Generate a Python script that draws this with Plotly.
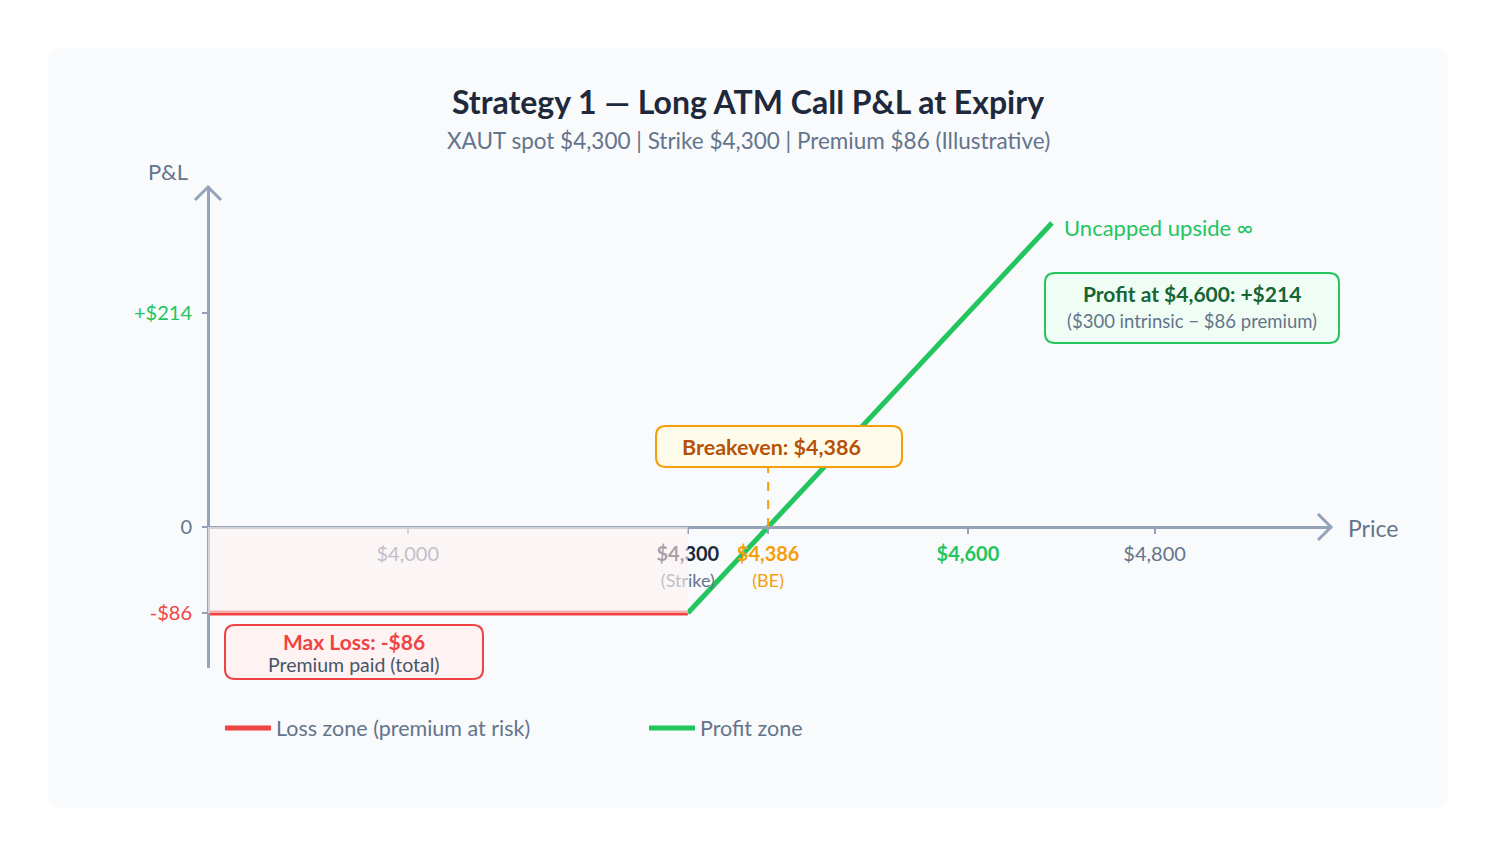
import plotly.graph_objects as go

W, H = 1496, 856
OFF = 8  # page margin around the plot div
FW, FH = W - 2 * OFF, H - 2 * OFF
FONT = "Lato, 'Open Sans', sans-serif"

# data
strike = 4300
premium = 86
breakeven = 4386
price_min = 3786
price_max = 4990
line_end = 4690
loss_prices = [price_min, strike]
loss_pnl = [-premium, -premium]
profit_prices = [strike, line_end]
profit_pnl = [-premium, line_end - strike - premium]

x_tickvals = [4000, 4300, 4386, 4600, 4800]
x_ticktext = [
    "$4,000",
    "<span style='color:#1e293b'><b>$4,300</b></span><br><span style='font-size:18px'>(Strike)</span>",
    "<span style='color:#f59e0b'><b>$4,386</b><br><span style='font-size:18px'>(BE)</span></span>",
    "<span style='color:#22c55e'><b>$4,600</b></span>",
    "$4,800",
]
y_tickvals = [214, 0, -86]
y_ticktext = [
    "<span style='color:#22c55e'>+$214</span>",
    "0",
    "<span style='color:#ef4444'>-$86</span>",
]

AXIS = "#94a3b8"


def px(x):
    return (x - OFF) / FW


def py(y):
    return 1 - (y - OFF) / FH


def rounded_path(w, h, r):
    # rounded rectangle centred on the anchor, pixel units
    x0, x1, y0, y1 = -w / 2, w / 2, -h / 2, h / 2
    return (f"M{x0 + r},{y0} L{x1 - r},{y0} Q{x1},{y0} {x1},{y0 + r} "
            f"L{x1},{y1 - r} Q{x1},{y1} {x1 - r},{y1} L{x0 + r},{y1} "
            f"Q{x0},{y1} {x0},{y1 - r} L{x0},{y0 + r} Q{x0},{y0} {x0 + r},{y0} Z")


def box(cx, cy, w, h, fill, border, r=10, layer="above"):
    return dict(type="path", xref="paper", yref="paper", xsizemode="pixel", ysizemode="pixel",
                xanchor=px(cx), yanchor=py(cy), path=rounded_path(w, h, r),
                fillcolor=fill, line=dict(color=border, width=2), layer=layer)


def chevron(cx, cy, path):
    return dict(type="path", xref="paper", yref="paper", xsizemode="pixel", ysizemode="pixel",
                xanchor=px(cx), yanchor=py(cy), path=path,
                line=dict(color=AXIS, width=3), layer="above")


fig = go.Figure()

fig.add_trace(go.Scatter(x=loss_prices, y=loss_pnl, mode="lines",
                         line=dict(color="#ef4444", width=5),
                         name="Loss zone (premium at risk)", hoverinfo="skip"))
fig.add_trace(go.Scatter(x=profit_prices, y=profit_pnl, mode="lines",
                         line=dict(color="#22c55e", width=5),
                         name="Profit zone", hoverinfo="skip"))

shapes = [
    # card
    box(748, 428, 1400, 760, "#f8fafc", "rgba(0,0,0,0)", r=16, layer="below"),
    # loss zone shading, drawn above so it veils the labels beneath it
    dict(type="rect", xref="x", yref="y", x0=price_min, x1=strike, y0=-premium, y1=0,
         fillcolor="rgba(254,242,242,0.6)", line=dict(width=0), layer="above"),
    # breakeven marker
    dict(type="line", xref="x", yref="y", x0=breakeven, x1=breakeven, y0=0, y1=59,
         line=dict(color="#f59e0b", width=2, dash="dash"), layer="above"),
    # arrow heads
    chevron(1331, 527, "M-13,13 L0,0 L-13,-13"),
    chevron(208, 187, "M-13,-13 L0,0 L13,-13"),
    # call-out boxes
    box(779, 446.5, 246, 41, "#fffbeb", "#f59e0b"),
    box(1192, 308, 294, 70, "#f0fdf4", "#22c55e"),
    box(354, 652, 258, 54, "#fef2f2", "#ef4444"),
]

annotations = [
    dict(text="<b>Strategy 1 — Long ATM Call P&L at Expiry</b>", x=px(748), y=py(101),
         font=dict(size=32, color="#1e293b")),
    dict(text="XAUT spot $4,300 | Strike $4,300 | Premium $86 (Illustrative)", x=px(748), y=py(140),
         font=dict(size=22.5, color="#64748b")),
    dict(text="P&L", x=px(168), y=py(172), font=dict(size=22, color="#64748b")),
    dict(text="Price", x=px(1373), y=py(528), font=dict(size=23, color="#64748b")),
    dict(text="Uncapped upside ∞", xref="x", yref="y", x=profit_prices[-1], y=profit_pnl[-1],
         xanchor="left", yanchor="middle", xshift=10, yshift=-4, font=dict(size=22, color="#22c55e")),
    dict(text="<b>Breakeven: $4,386</b>", x=px(772), y=py(447),
         font=dict(size=21.5, color="#b45309")),
    dict(text="<b>Profit at $4,600: +$214</b>", x=px(1192), y=py(293),
         font=dict(size=21, color="#166534")),
    dict(text="($300 intrinsic − $86 premium)", x=px(1192), y=py(321),
         font=dict(size=18.5, color="#64748b")),
    dict(text="<b>Max Loss: -$86</b>", x=px(354), y=py(641),
         font=dict(size=21, color="#ef4444")),
    dict(text="Premium paid (total)", x=px(354), y=py(664),
         font=dict(size=19.5, color="#475569")),
]
for a in annotations:
    a.setdefault("xref", "paper")
    a.setdefault("yref", "paper")
    a.setdefault("showarrow", False)
    a.setdefault("xanchor", "center")
    a.setdefault("yanchor", "middle")

fig.update_layout(
    width=FW, height=FH,
    margin=dict(l=0, r=0, t=0, b=0),
    paper_bgcolor="white",
    plot_bgcolor="rgba(0,0,0,0)",
    font=dict(family=FONT, color="#64748b"),
    shapes=shapes,
    annotations=annotations,
    showlegend=True,
    legend=dict(orientation="h", x=px(220), y=py(728), xanchor="left", yanchor="middle",
                bgcolor="rgba(0,0,0,0)", font=dict(size=21.5, color="#64748b"),
                entrywidth=363, entrywidthmode="pixels", itemwidth=46),
    xaxis=dict(domain=[px(208), px(1332)], range=[price_min, price_max],
               anchor="free", position=py(527),
               showgrid=False, zeroline=False, showline=True, linecolor=AXIS, linewidth=3,
               tickmode="array", tickvals=x_tickvals, ticktext=x_ticktext,
               ticks="outside", ticklen=5, tickwidth=2, tickcolor=AXIS,
               tickfont=dict(size=20, color="#64748b"), ticklabelstandoff=3),
    yaxis=dict(domain=[py(668), py(186)], range=[-141, 341],
               anchor="free", position=px(208),
               showgrid=False, zeroline=False, showline=True, linecolor=AXIS, linewidth=3,
               tickmode="array", tickvals=y_tickvals, ticktext=y_ticktext,
               ticks="outside", ticklen=5, tickwidth=2, tickcolor=AXIS,
               tickfont=dict(size=20, color="#64748b"), ticklabelstandoff=6),
)

fig.write_html("out.html")
